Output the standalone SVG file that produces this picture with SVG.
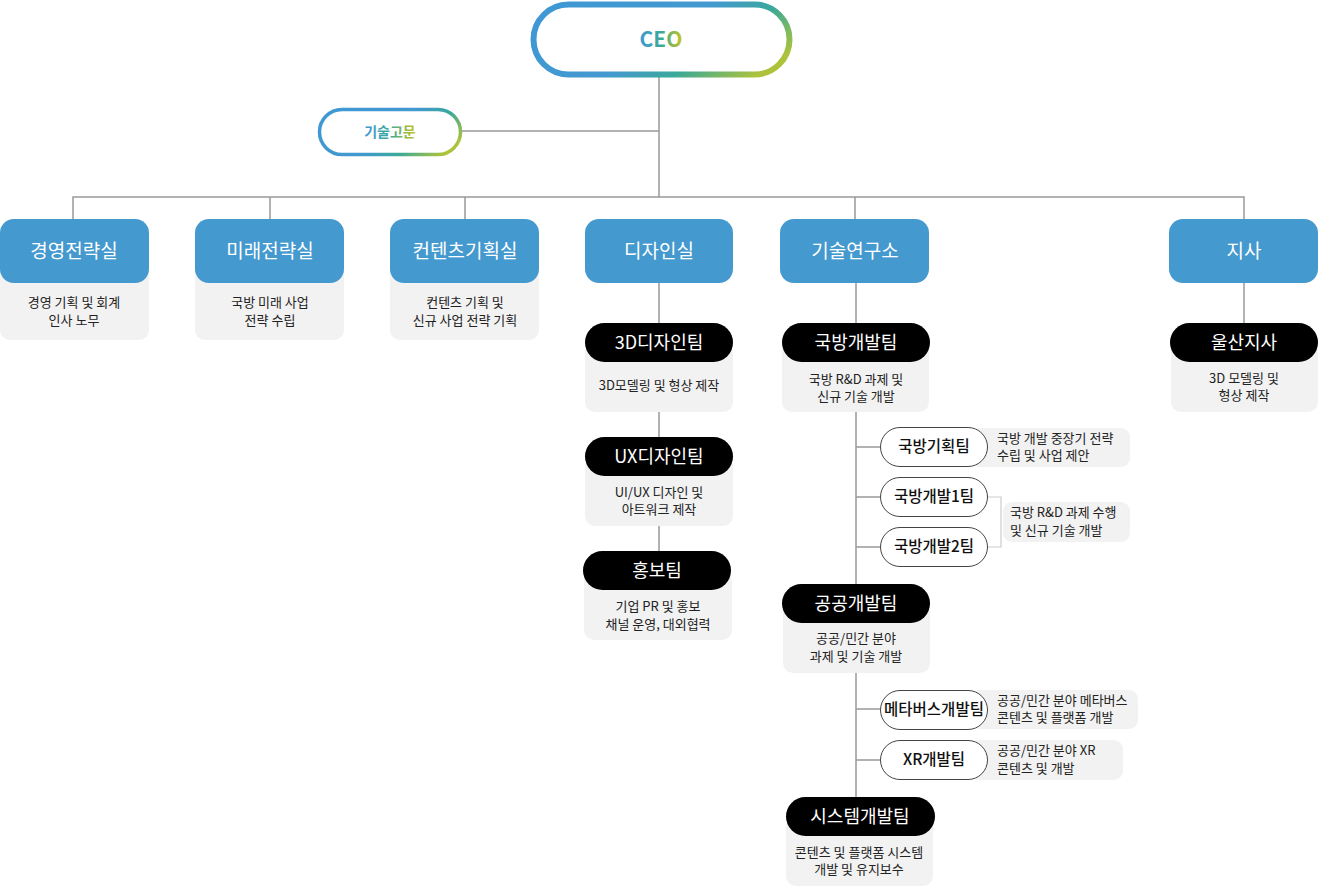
<svg xmlns="http://www.w3.org/2000/svg" width="1324" height="890" viewBox="0 0 1324 890">
<defs>
<linearGradient id="gCeo" x1="0" y1="0.3" x2="1" y2="0.7">
<stop offset="0" stop-color="#3f98d4"/>
<stop offset="0.5" stop-color="#4399cf"/>
<stop offset="0.72" stop-color="#3aa99a"/>
<stop offset="1" stop-color="#aec33a"/>
</linearGradient>
<linearGradient id="gTxt" x1="0" y1="0" x2="1" y2="0">
<stop offset="0" stop-color="#3f98d4"/>
<stop offset="0.5" stop-color="#3aa99a"/>
<stop offset="1" stop-color="#c8c41a"/>
</linearGradient>
<style>
.ln{stroke:#999;stroke-width:1.5;fill:none}
.br{stroke:#ccc;stroke-width:1.2;fill:none}
.blue{fill:#4499cf}
.gray{fill:#f2f2f2}
.blk{fill:#000}
.sub{fill:#fff;stroke:#444;stroke-width:1}
text{font-family:"Noto Sans CJK KR","Noto Sans",sans-serif}
.bt{fill:#fff;font-size:19px;font-weight:400;text-anchor:middle}
.pt{fill:#fff;font-size:18px;font-weight:400;text-anchor:middle}
.st{fill:#111;font-size:15.5px;font-weight:500;text-anchor:middle}
.d{fill:#222;font-size:13px;text-anchor:middle}
.dl{fill:#222;font-size:13px;text-anchor:start}
</style>
</defs>

<g id="connectors">
<line class="ln" x1="659" y1="77" x2="659" y2="197"/>
<line class="ln" x1="462" y1="131" x2="659" y2="131"/>
<polyline class="ln" points="73,219 73,197 1244,197 1244,219"/>
<line class="ln" x1="270" y1="197" x2="270" y2="219"/>
<line class="ln" x1="465" y1="197" x2="465" y2="219"/>
<line class="ln" x1="855" y1="197" x2="855" y2="219"/>
<line class="ln" x1="659" y1="283" x2="659" y2="323"/>
<line class="ln" x1="659" y1="412" x2="659" y2="437"/>
<line class="ln" x1="659" y1="526" x2="659" y2="551"/>
<line class="ln" x1="856" y1="283" x2="856" y2="797"/>
<line class="ln" x1="856" y1="447" x2="880" y2="447"/>
<line class="ln" x1="856" y1="497" x2="880" y2="497"/>
<line class="ln" x1="856" y1="547" x2="880" y2="547"/>
<line class="ln" x1="856" y1="709" x2="880" y2="709"/>
<line class="ln" x1="856" y1="760" x2="880" y2="760"/>
<line class="ln" x1="1244" y1="283" x2="1244" y2="323"/>
<polyline class="br" points="988,497 1001,497 1001,547 988,547"/>
</g>

<g id="ceo">
<rect x="533.5" y="4.5" width="256" height="70" rx="35" fill="#fff" stroke="url(#gCeo)" stroke-width="6"/>
<text x="661" y="47" font-size="21" font-weight="700" text-anchor="middle" fill="url(#gTxt)" font-family="'Noto Sans','Liberation Sans',sans-serif">CEO</text>
</g>

<g id="advisor">
<rect x="319.5" y="109.5" width="141" height="45" rx="22.5" fill="#fff" stroke="url(#gCeo)" stroke-width="3.5"/>
<text x="390" y="137" font-size="14" font-weight="700" text-anchor="middle" fill="url(#gTxt)">기술고문</text>
</g>

<g id="dept-management">
<rect class="gray" x="0" y="250" width="149" height="90" rx="10"/>
<rect class="blue" x="0" y="219" width="149" height="64" rx="14"/>
<text class="bt" x="74" y="258">경영전략실</text>
<text class="d" x="74" y="307">경영 기획 및 회계</text>
<text class="d" x="74" y="325">인사 노무</text>
</g>

<g id="dept-future">
<rect class="gray" x="195" y="250" width="149" height="90" rx="10"/>
<rect class="blue" x="195" y="219" width="149" height="64" rx="14"/>
<text class="bt" x="270" y="258">미래전략실</text>
<text class="d" x="270" y="307">국방 미래 사업</text>
<text class="d" x="270" y="325">전략 수립</text>
</g>

<g id="dept-contents">
<rect class="gray" x="390" y="250" width="149" height="90" rx="10"/>
<rect class="blue" x="390" y="219" width="149" height="64" rx="14"/>
<text class="bt" x="465" y="258">컨텐츠기획실</text>
<text class="d" x="465" y="307">컨텐츠 기획 및</text>
<text class="d" x="465" y="325">신규 사업 전략 기획</text>
</g>

<g id="dept-design">
<rect class="blue" x="585" y="219" width="148" height="64" rx="14"/>
<text class="bt" x="659" y="258">디자인실</text>
</g>

<g id="dept-research">
<rect class="blue" x="780" y="219" width="149" height="64" rx="14"/>
<text class="bt" x="855" y="258">기술연구소</text>
</g>

<g id="dept-branch">
<rect class="blue" x="1169" y="219" width="149" height="64" rx="14"/>
<text class="bt" x="1244" y="258">지사</text>
</g>

<g id="team-3d">
<rect class="gray" x="585" y="342" width="148" height="70" rx="10"/>
<rect class="blk" x="585" y="323" width="148" height="39" rx="19.5"/>
<text class="pt" x="659" y="349">3D디자인팀</text>
<text class="d" x="659" y="390">3D모델링 및 형상 제작</text>
</g>

<g id="team-ux">
<rect class="gray" x="585" y="456" width="148" height="70" rx="10"/>
<rect class="blk" x="585" y="437" width="148" height="39" rx="19.5"/>
<text class="pt" x="659" y="463">UX디자인팀</text>
<text class="d" x="659" y="497">UI/UX 디자인 및</text>
<text class="d" x="659" y="514">아트워크 제작</text>
</g>

<g id="team-pr">
<rect class="gray" x="584" y="570" width="148" height="70" rx="10"/>
<rect class="blk" x="583" y="551" width="148" height="39" rx="19.5"/>
<text class="pt" x="657" y="577">홍보팀</text>
<text class="d" x="658" y="611">기업 PR 및 홍보</text>
<text class="d" x="658" y="629">채널 운영, 대외협력</text>
</g>

<g id="team-defense">
<rect class="gray" x="782" y="342" width="147" height="70" rx="10"/>
<rect class="blk" x="782" y="323" width="148" height="39" rx="19.5"/>
<text class="pt" x="856" y="349">국방개발팀</text>
<text class="d" x="856" y="384">국방 R&amp;D 과제 및</text>
<text class="d" x="856" y="401">신규 기술 개발</text>
</g>

<g id="team-defense-plan">
<rect class="gray" x="970" y="428" width="160" height="39" rx="9"/>
<rect class="sub" x="880.5" y="427.5" width="107" height="39" rx="19.5"/>
<text class="st" x="934" y="452">국방기획팀</text>
<text class="dl" x="997" y="443">국방 개발 중장기 전략</text>
<text class="dl" x="997" y="460">수립 및 사업 제안</text>
</g>

<g id="team-defense-1">
<rect class="sub" x="880.5" y="477.5" width="107" height="39" rx="19.5"/>
<text class="st" x="934" y="502">국방개발1팀</text>
</g>

<g id="team-defense-2">
<rect class="sub" x="880.5" y="527.5" width="107" height="39" rx="19.5"/>
<text class="st" x="934" y="552">국방개발2팀</text>
</g>

<g id="team-defense-desc">
<rect class="gray" x="1003" y="502" width="127" height="40" rx="9"/>
<text class="dl" x="1010" y="517">국방 R&amp;D 과제 수행</text>
<text class="dl" x="1010" y="535">및 신규 기술 개발</text>
</g>

<g id="team-public">
<rect class="gray" x="783" y="603" width="147" height="70" rx="10"/>
<rect class="blk" x="782" y="584" width="148" height="39" rx="19.5"/>
<text class="pt" x="856" y="610">공공개발팀</text>
<text class="d" x="856" y="643">공공/민간 분야</text>
<text class="d" x="856" y="661">과제 및 기술 개발</text>
</g>

<g id="team-metaverse">
<rect class="gray" x="970" y="690" width="168" height="39" rx="9"/>
<rect class="sub" x="880.5" y="690.5" width="107" height="39" rx="19.5"/>
<text class="st" x="934" y="715" font-size="14">메타버스개발팀</text>
<text class="dl" x="997" y="705">공공/민간 분야 메타버스</text>
<text class="dl" x="997" y="722">콘텐츠 및 플랫폼 개발</text>
</g>

<g id="team-xr">
<rect class="gray" x="970" y="740" width="153" height="40" rx="9"/>
<rect class="sub" x="880.5" y="740.5" width="107" height="39" rx="19.5"/>
<text class="st" x="934" y="765">XR개발팀</text>
<text class="dl" x="997" y="755">공공/민간 분야 XR</text>
<text class="dl" x="997" y="773">콘텐츠 및 개발</text>
</g>

<g id="team-system">
<rect class="gray" x="786" y="816" width="147" height="70" rx="10"/>
<rect class="blk" x="786" y="797" width="149" height="39" rx="19.5"/>
<text class="pt" x="860" y="823">시스템개발팀</text>
<text class="d" x="859" y="857">콘텐츠 및 플랫폼 시스템</text>
<text class="d" x="859" y="874">개발 및 유지보수</text>
</g>

<g id="branch-ulsan">
<rect class="gray" x="1171" y="342" width="147" height="70" rx="10"/>
<rect class="blk" x="1170" y="323" width="148" height="39" rx="19.5"/>
<text class="pt" x="1244" y="349">울산지사</text>
<text class="d" x="1244" y="383">3D 모델링 및</text>
<text class="d" x="1244" y="400">형상 제작</text>
</g>
</svg>
